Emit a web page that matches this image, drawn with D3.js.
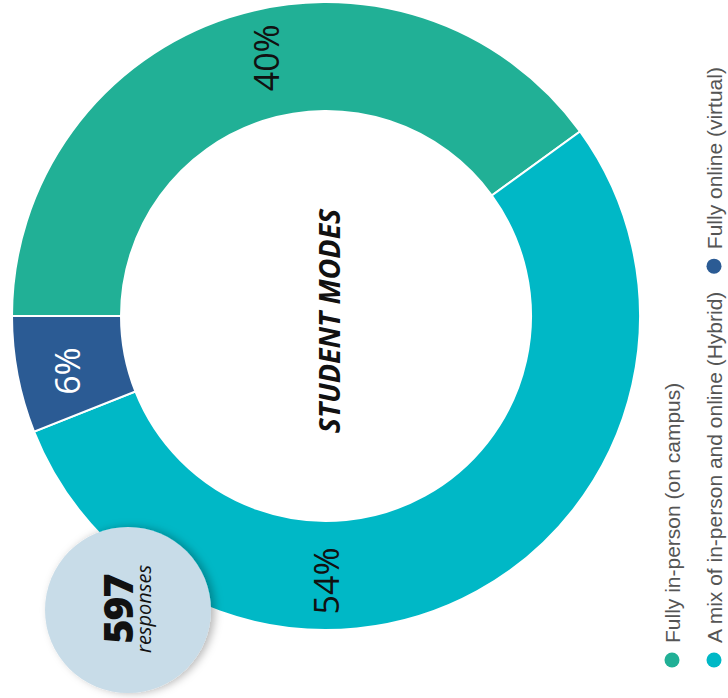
<!DOCTYPE html>
<html>
<head>
<meta charset="utf-8">
<script src="https://cdn.jsdelivr.net/npm/d3@7"></script>
<style>
  html, body { margin: 0; padding: 0; background: #fff; }
  svg { display: block; }
</style>
</head>
<body>
<svg id="chart" width="728" height="698"></svg>
<script>
// ---- data ----
const categories = ["Fully in-person (on campus)", "A mix of in-person and online (Hybrid)", "Fully online (virtual)"];
const values = [40, 54, 6];
const valueLabels = ["40%", "54%", "6%"];
const colors = ["#21b096", "#00b8c6", "#2b5b94"];
const labelColors = ["#111", "#111", "#fff"];
const title = "STUDENT MODES";
const responseCount = "597";
const responseWord = "responses";

// ---- layout ----
const W = 728, H = 698;
const cx = 326, cy = 316, outerR = 314, innerR = 205;
const labelR = 265;
const labelAngleDeg = [-13, 180, 258]; // label placement in the rotated view (clockwise from top)

const svg = d3.select("#chart");
const defs = svg.append("defs");
const f = defs.append("filter").attr("id", "shadow").attr("x", "-30%").attr("y", "-30%").attr("width", "160%").attr("height", "160%");
f.append("feDropShadow").attr("dx", 4).attr("dy", 0).attr("stdDeviation", 4).attr("flood-color", "#000").attr("flood-opacity", 0.28);

const g = svg.append("g").attr("transform", `translate(${cx},${cy})`);

const data = categories.map((c, i) => ({ cat: c, value: values[i], label: valueLabels[i], i }));
const pie = d3.pie().sort(null).value(d => d.value)
  .startAngle(-Math.PI / 2).endAngle(3 * Math.PI / 2);
const arc = d3.arc().innerRadius(innerR).outerRadius(outerR);
const arcs = pie(data);

g.selectAll("path.slice").data(arcs).join("path")
  .attr("class", "slice")
  .attr("d", arc)
  .attr("fill", d => colors[d.data.i])
  .attr("stroke", "#fff")
  .attr("stroke-width", 2);

g.selectAll("text.val").data(arcs).join("text")
  .attr("class", "val")
  .attr("transform", d => {
    const a = labelAngleDeg[d.data.i] * Math.PI / 180;
    const x = labelR * Math.sin(a), y = -labelR * Math.cos(a);
    return `translate(${x},${y}) rotate(-90)`;
  })
  .attr("text-anchor", "middle")
  .attr("dominant-baseline", "central")
  .attr("font-family", "'Open Sans', sans-serif")
  .attr("font-weight", 400)
  .attr("font-size", 34)
  .attr("fill", d => labelColors[d.data.i])
  .text(d => d.data.label);

// center title
svg.append("text")
  .attr("transform", `translate(340,321) rotate(-90)`)
  .attr("text-anchor", "middle")
  .attr("font-family", "'Open Sans', sans-serif")
  .attr("font-weight", 700)
  .attr("font-style", "italic")
  .attr("font-size", 28.5)
  .attr("fill", "#111")
  .text(title);

// responses badge
svg.append("circle")
  .attr("cx", 128).attr("cy", 610).attr("r", 83)
  .attr("fill", "#c8dce8")
  .attr("filter", "url(#shadow)");
svg.append("text")
  .attr("transform", `translate(133,609) rotate(-90)`)
  .attr("text-anchor", "middle")
  .attr("font-family", "'Open Sans', sans-serif")
  .attr("font-weight", 800)
  .attr("font-size", 41)
  .attr("letter-spacing", -1)
  .attr("fill", "#111")
  .text(responseCount);
svg.append("text")
  .attr("transform", `translate(151,609) rotate(-90)`)
  .attr("text-anchor", "middle")
  .attr("font-family", "'Open Sans', sans-serif")
  .attr("font-style", "italic")
  .attr("font-size", 20)
  .attr("fill", "#111")
  .text(responseWord);

// legend (rotated)
const legend = svg.append("g");
const legRows = [
  { x: 672, items: [0] },
  { x: 714, items: [1, 2] }
];
legRows.forEach(row => {
  let y = 660;
  row.items.forEach(i => {
    legend.append("circle").attr("cx", row.x).attr("cy", y).attr("r", 7.5).attr("fill", colors[i]);
    const t = legend.append("text")
      .attr("transform", `translate(${row.x + 7.5},${y - 17}) rotate(-90)`)
      .attr("font-family", "'Liberation Sans', Arial, sans-serif")
      .attr("font-size", 21)
      .attr("fill", "#555")
      .text(categories[i]);
    const len = t.node().getComputedTextLength();
    y = y - 17 - len - 18 - 7.5;
  });
});
</script>
</body>
</html>
